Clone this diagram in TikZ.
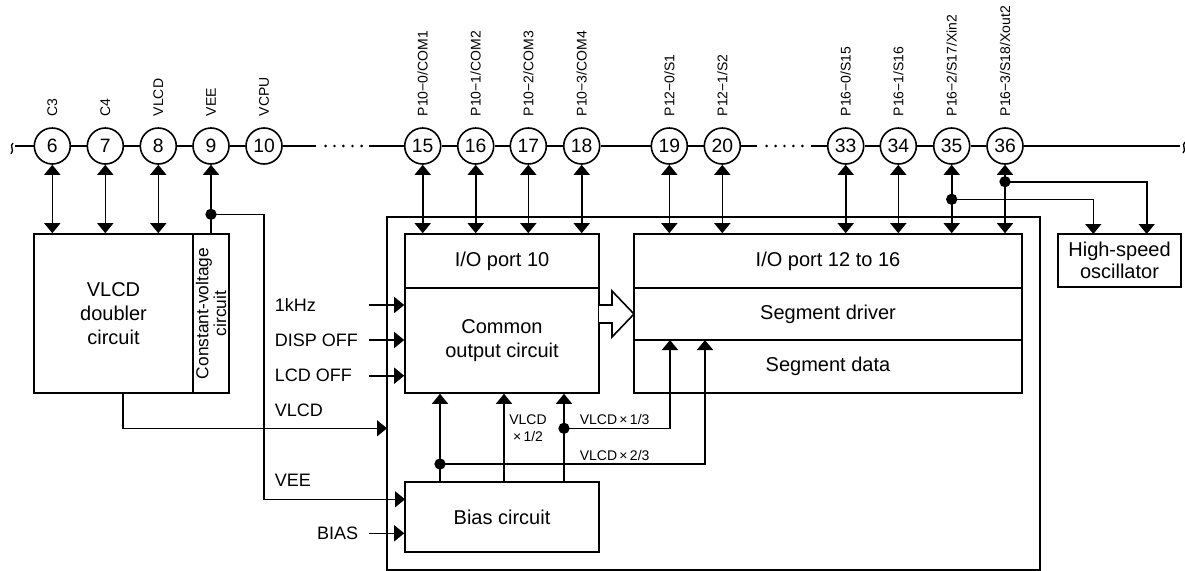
\documentclass[tikz,border=0pt]{standalone}
\usepackage{fontspec}
\setmainfont{Liberation Sans}
\usetikzlibrary{arrows.meta}
\begin{document}
\begin{tikzpicture}[x=0.75pt,y=-0.75pt,line width=1.2pt,
  >={Triangle[width=12pt,length=7.5pt]},
  arr/.style={->},
  darr/.style={<->},
  barr/.style={<-},
  pin/.style={circle,draw,fill=white,minimum size=27pt,inner sep=0pt,font=\fontsize{14.5}{14.5}\selectfont},
  pinlbl/.style={rotate=90,anchor=west,inner sep=0pt,font=\fontsize{10.5}{10.5}\selectfont},
  blk/.style={draw,inner sep=0pt,align=center,font=\fontsize{15}{17.5}\selectfont},
  sig/.style={inner sep=0pt,font=\fontsize{13.5}{14}\selectfont},
  small/.style={inner sep=0pt,font=\fontsize{10.5}{13}\selectfont},
  jdot/.style={circle,fill,inner sep=0pt,minimum size=8.5pt}]
\useasboundingbox (0,0) rectangle (1185,571);

% pins
\foreach \n/\x/\t in {6/52.3/C3,7/105.3/C4,8/158.3/VLCD,9/211/VEE,10/264/VCPU,
  15/422.7/P10−0\slash COM1,16/475.7/P10−1\slash COM2,17/528.3/P10−2\slash COM3,18/581.7/P10−3\slash COM4,
  19/669.3/P12−0\slash S1,20/722.3/P12−1\slash S2,
  33/845.7/P16−0\slash S15,34/898.3/P16−1\slash S16,35/951.7/P16−2\slash S17\slash Xin2,36/1005/P16−3\slash S18\slash Xout2}{
  \node[pin] (p\n) at (\x,146) {\n};
  \node[pinlbl] (l\n) at (\x,117) {\t};
}
\coordinate (lend) at (15,146);
\coordinate (rend) at (1180,146);
\draw (lend) -- (p6);
\draw (p6) -- (p7); \draw (p7) -- (p8); \draw (p8) -- (p9); \draw (p9) -- (p10);
\coordinate (da1) at (316,146); \coordinate (da2) at (369,146);
\draw (p10) -- (da1); \draw (da2) -- (p15);
\draw (p15) -- (p16); \draw (p16) -- (p17); \draw (p17) -- (p18); \draw (p18) -- (p19); \draw (p19) -- (p20);
\coordinate (db1) at (757,146); \coordinate (db2) at (811,146);
\draw (p20) -- (db1); \draw (db2) -- (p33);
\draw (p33) -- (p34); \draw (p34) -- (p35); \draw (p35) -- (p36); \draw (p36) -- (rend);
\foreach \x in {325.7,334.5,343.3,352.5,361.7,766.7,775.7,784.5,793.3,802.3}
  \fill (\x,146) circle[radius=1.1pt];
\draw[line width=1pt] (13,143) .. controls (9,146) and (15,150) .. (11,154);
\draw[line width=1pt] (1185,142) .. controls (1181,145) and (1187,150) .. (1183,153);

% blocks
\node[blk,minimum width=119.25pt,minimum height=119.25pt,font=\fontsize{15}{18}\selectfont] (dbl) at (113.5,313.5) {VLCD\\doubler\\circuit};
\node[draw,minimum width=27pt,minimum height=119.25pt] (cvc) at (211,313.5) {};
\node[rotate=90,align=center,inner sep=0pt,font=\fontsize{13}{13.3}\selectfont] (cvct) at (cvc.center) {Constant-voltage\\circuit};
\node[draw,minimum width=489.75pt,minimum height=264.75pt] (big) at (713.5,393.5) {};
\node[blk,minimum width=145.5pt,minimum height=40.5pt] (io10) at (502,261) {I/O port 10};
\node[blk,minimum width=145.5pt,minimum height=78.75pt] (coc) at (502,340.5) {Common\\output circuit};
\node[blk,minimum width=145.5pt,minimum height=52.5pt] (bias) at (502,517) {Bias circuit};
\node[blk,minimum width=291pt,minimum height=40.5pt] (io12) at (828,261) {I/O port 12 to 16};
\node[blk,minimum width=291pt,minimum height=39pt] (segdrv) at (828,314) {Segment driver};
\node[blk,minimum width=291pt,minimum height=39.75pt] (segdat) at (828,366.5) {Segment data};
\node[blk,minimum width=92.25pt,minimum height=39.75pt,font=\fontsize{15}{17}\selectfont] (osc) at (1119.5,260.5) {High-speed\\oscillator};

% pin connections
\foreach \n in {6,7,8} \draw[darr] (p\n.south) -- (p\n.south |- dbl.north);
\draw[barr] (p9.south) -- (p9.south |- cvc.north);
\foreach \n in {15,16,17,18} \draw[darr] (p\n.south) -- (p\n.south |- io10.north);
\foreach \n in {19,20,33,34,35,36} \draw[darr] (p\n.south) -- (p\n.south |- io12.north);

\node[jdot] (d35) at (951.7,199.3) {};
\node[jdot] (d36) at (1005,181.7) {};
\coordinate (o1) at (1093.3,234);
\coordinate (o2) at (1146.7,234);
\draw[arr] (d35.center) -| (o1);
\draw[arr] (d36.center) -| (o2);

% VEE
\node[jdot] (d9) at (211,214.3) {};
\coordinate (vee1) at (264,214.3);
\coordinate (veein) at (405,499.3);
\draw[arr] (d9.center) -- (vee1) |- (veein);

% VLCD
\coordinate (vlcdout) at (123,393);
\coordinate (vlcdin) at (387,428.3);
\draw[arr] (vlcdout) |- (vlcdin);

% signal labels
\node[sig,anchor=west] (t1) at (274,305) {1kHz};
\node[sig,anchor=west] (t2) at (274,340) {DISP OFF};
\node[sig,anchor=west] (t3) at (274,375.7) {LCD OFF};
\node[sig,anchor=west] (t4) at (274,410) {VLCD};
\node[sig,anchor=west] (t5) at (274,480) {VEE};
\node[sig,anchor=east] (t6) at (359,533.5) {BIAS};
\coordinate (i1) at (369,305);
\coordinate (i2) at (369,340);
\coordinate (i3) at (369,375.7);
\coordinate (i4) at (369,533.3);
\draw[arr] (i1) -- (i1 -| coc.west);
\draw[arr] (i2) -- (i2 -| coc.west);
\draw[arr] (i3) -- (i3 -| coc.west);
\draw[arr] (i4) -- (i4 -| bias.west);

% bias outputs
\coordinate (b1) at (440,482);
\coordinate (b2) at (504,482);
\coordinate (b3) at (564,482);
\draw[arr] (b1) -- (b1 |- coc.south);
\draw[arr] (b2) -- (b2 |- coc.south);
\draw[arr] (b3) -- (b3 |- coc.south);
\node[jdot] (d1) at (440,464) {};
\node[jdot] (d3) at (564,428.3) {};
\coordinate (s1) at (670,340);
\coordinate (s2) at (705,340);
\draw[arr] (d3.center) -| (s1);
\draw[arr] (d1.center) -| (s2);
\node[small,align=center] (h12) at (528,428) {VLCD\\×\,1/2};
\node[small,anchor=west] (h13) at (579,419.5) {VLCD\,×\,1/3};
\node[small,anchor=west] (h23) at (579,455) {VLCD\,×\,2/3};

% hollow arrow
\draw[fill=white] (599,305) -- (612,305) -- (612,291) -- (634,314) -- (612,337) -- (612,323) -- (599,323);
\end{tikzpicture}
\end{document}
